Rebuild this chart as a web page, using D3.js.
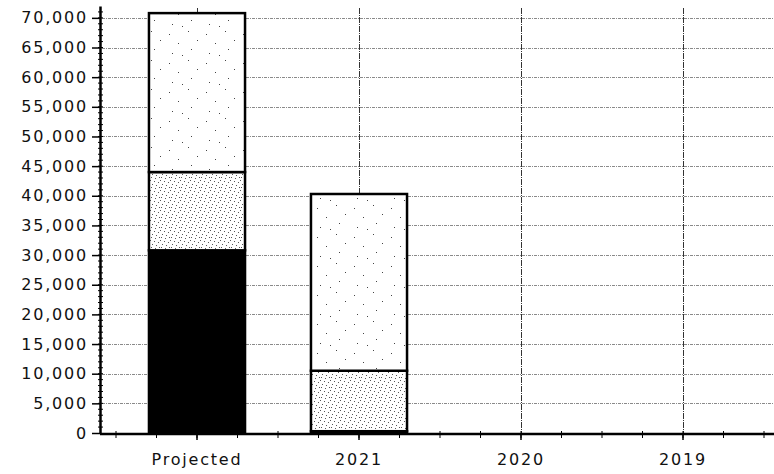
<!DOCTYPE html>
<html>
<head>
<meta charset="utf-8">
<script src="https://cdn.jsdelivr.net/npm/d3@7"></script>
<style>
  body { margin: 0; background: #fff; }
  svg { display: block; }
  .axis text { font-family: "DejaVu Sans", sans-serif; font-size: 16px; letter-spacing: 1.8px; fill: #111; }
  .axis path, .axis line { stroke: #000; }
</style>
</head>
<body>
<div id="chart-area"></div>
<script>
// values
let categories = ["Projected", "2021", "2020", "2019"];
let seriesBottom = [30800, 300, 0, 0];
let seriesMiddle = [13200, 10200, 0, 0];
let seriesTop = [26800, 29800, 0, 0];
let yTicks = [0, 5000, 10000, 15000, 20000, 25000, 30000, 35000, 40000, 45000, 50000, 55000, 60000, 65000, 70000];

let W = 774, H = 474;
let axisX = 100, axisY = 434;

let svg = d3.select("#chart-area").append("svg")
    .attr("width", W)
    .attr("height", H);

let defs = svg.append("defs");

// dense stipple
let dense = defs.append("pattern")
    .attr("id", "dense")
    .attr("patternUnits", "userSpaceOnUse")
    .attr("width", 10).attr("height", 10);
dense.append("rect").attr("width", 10).attr("height", 10).attr("fill", "#fff");
[[0, 0], [4, 1], [8, 2], [2, 4], [6, 5], [1, 7], [5, 8], [9, 7]].forEach(p => {
    dense.append("rect").attr("x", p[0]).attr("y", p[1])
        .attr("width", 1).attr("height", 1).attr("fill", "#555");
});

// sparse stipple
let sparse = defs.append("pattern")
    .attr("id", "sparse")
    .attr("patternUnits", "userSpaceOnUse")
    .attr("width", 37).attr("height", 29);
sparse.append("rect").attr("width", 37).attr("height", 29).attr("fill", "#fff");
[[3, 2], [21, 5], [12, 11], [30, 14], [6, 20], [24, 24], [34, 26]].forEach(p => {
    sparse.append("rect").attr("x", p[0]).attr("y", p[1])
        .attr("width", 1).attr("height", 1).attr("fill", "#444");
});

// Scales
let x = d3.scaleBand()
    .domain(categories)
    .range([116, 764])
    .paddingInner(0.407)
    .paddingOuter(0.2035);

let y = d3.scaleLinear()
    .domain([0, 72000])
    .range([433, 6]);

// horizontal grid
svg.append("g")
    .selectAll("line")
    .data(yTicks.filter(d => d > 0))
    .enter().append("line")
    .attr("x1", axisX + 2).attr("x2", W)
    .attr("y1", d => Math.round(y(d)) + 0.5)
    .attr("y2", d => Math.round(y(d)) + 0.5)
    .attr("stroke", "#8a8a8a")
    .attr("stroke-width", 1)
    .attr("stroke-dasharray", "3,1,1,1");

// vertical grid at category centres
svg.append("g")
    .selectAll("line")
    .data(categories)
    .enter().append("line")
    .attr("x1", d => Math.round(x(d) + x.bandwidth() / 2) + 0.5)
    .attr("x2", d => Math.round(x(d) + x.bandwidth() / 2) + 0.5)
    .attr("y1", 8).attr("y2", axisY)
    .attr("stroke", "#333")
    .attr("stroke-width", 1)
    .attr("stroke-dasharray", "6,1,1,1");

// stacked bars
let rows = categories.map((c, i) => ({
    cat: c, bottom: seriesBottom[i], middle: seriesMiddle[i], top: seriesTop[i]
}));
let stack = d3.stack().keys(["bottom", "middle", "top"])(rows);
let fills = {bottom: "#000", middle: "url(#dense)", top: "url(#sparse)"};

svg.append("g")
    .selectAll("g")
    .data(stack)
    .enter().append("g")
    .attr("fill", d => fills[d.key])
    .selectAll("rect")
    .data(d => d.filter(s => s[1] - s[0] > 0))
    .enter().append("rect")
    .attr("x", d => x(d.data.cat))
    .attr("y", d => y(d[1]))
    .attr("width", x.bandwidth())
    .attr("height", d => y(d[0]) - y(d[1]))
    .attr("stroke", "#000")
    .attr("stroke-width", 2.5);

// y axis
let yAxis = svg.append("g")
    .attr("class", "axis")
    .attr("transform", `translate(${axisX},0)`)
    .call(d3.axisLeft(y).tickValues(yTicks).tickFormat(d3.format(",")).tickSize(8).tickPadding(4).tickSizeOuter(0));
yAxis.select(".domain").attr("stroke-width", 2.5);
yAxis.selectAll(".tick line").attr("stroke-width", 1.5);

// minor ticks on y axis
svg.append("g")
    .selectAll("line")
    .data(d3.range(1000, 72000, 1000))
    .enter().append("line")
    .attr("x1", axisX - 2).attr("x2", axisX + 3)
    .attr("y1", d => y(d)).attr("y2", d => y(d))
    .attr("stroke", "#000");

// x axis
let xAxis = svg.append("g")
    .attr("class", "axis")
    .attr("transform", `translate(0,${axisY})`)
    .call(d3.axisBottom(x).tickSize(6).tickPadding(14).tickSizeOuter(0));
xAxis.select(".domain").attr("d", `M${axisX},0H${W}`).attr("stroke-width", 2.5);
xAxis.selectAll(".tick line").attr("stroke-width", 1.5);

// minor ticks on x axis
let step = x.step();
svg.append("g")
    .selectAll("line")
    .data(d3.range(116, W, step / 4))
    .enter().append("line")
    .attr("x1", d => d).attr("x2", d => d)
    .attr("y1", axisY - 3).attr("y2", axisY + 4)
    .attr("stroke", "#000");
</script>
</body>
</html>
